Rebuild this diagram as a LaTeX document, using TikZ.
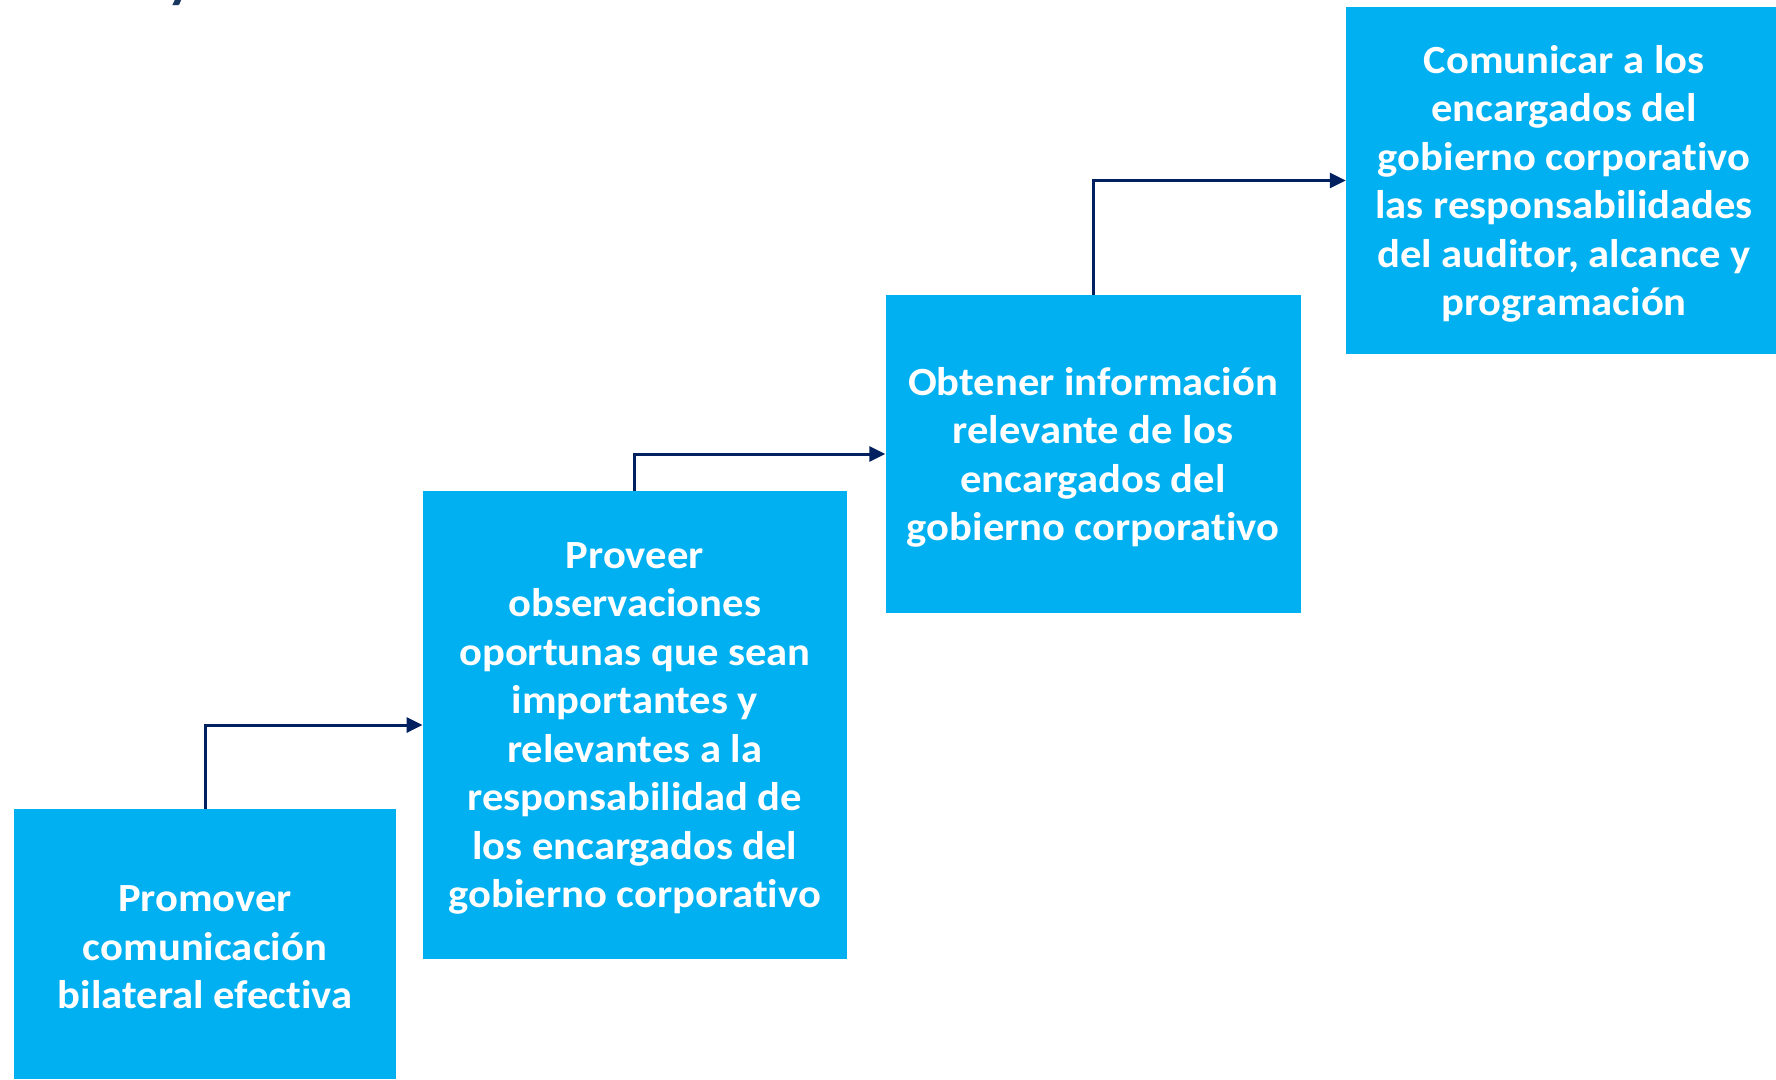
\documentclass[tikz,border=0pt]{standalone}
\usepackage{fontspec}
\setmainfont{Carlito}[Ligatures=NoCommon, FakeStretch=1.065]
\usetikzlibrary{arrows.meta}
\definecolor{stepblue}{HTML}{00B0F0}
\definecolor{linknavy}{HTML}{002060}
\definecolor{titlenavy}{HTML}{17375E}
\begin{document}
\begin{tikzpicture}[x=1pt,y=-1pt,
  stepbox/.style={fill=stepblue, draw=none, rectangle, inner sep=0pt},
  steptext/.style={inner sep=0pt, text=white, align=center,
    font=\bfseries\fontsize{40}{48.5}\selectfont},
  link/.style={draw=linknavy, line width=3pt,
    -{Triangle[length=16pt,width=15pt]}}]
\useasboundingbox (0,0) rectangle (1776,1079);
\begin{scope}
\clip (0,0) rectangle (1776,1079);
% descender of the heading above the page
\node[anchor=base, text=titlenavy, inner sep=0pt,
  font=\bfseries\fontsize{52}{60}\selectfont] (heading) at (181,-3) {y};

% step boxes
\node[stepbox, minimum width=382pt, minimum height=270pt] (s1) at (205,944) {};
\node[stepbox, minimum width=424pt, minimum height=468pt] (s2) at (634.8,725) {};
\node[stepbox, minimum width=415pt, minimum height=318pt] (s3) at (1093,454) {};
\node[stepbox, minimum width=430pt, minimum height=347.5pt] (s4) at (1561,180.5) {};

% step texts
\node[steptext] (s1t) at ([yshift=-3.4pt]s1.center)
  {Promover\\comunicación\\bilateral efectiva};
\node[steptext] (s2t) at ([yshift=-3.4pt]s2.center)
  {Proveer\\observaciones\\oportunas que sean\\importantes y\\relevantes a la\\responsabilidad de\\los encargados del\\gobierno corporativo};
\node[steptext] (s3t) at ([yshift=-3.4pt]s3.center)
  {Obtener información\\relevante de los\\encargados del\\gobierno corporativo};
\node[steptext] (s4t) at ([yshift=-3.4pt, xshift=3pt]s4.center)
  {Comunicar a los\\encargados del\\gobierno corporativo\\las responsabilidades\\del auditor, alcance y\\programación};

% connectors
\draw[link] (s1.north) |- (s2.west);
\draw[link] (s2.north) |- (s3.west);
\draw[link] (s3.north) |- (s4.west);
\end{scope}
\end{tikzpicture}
\end{document}
